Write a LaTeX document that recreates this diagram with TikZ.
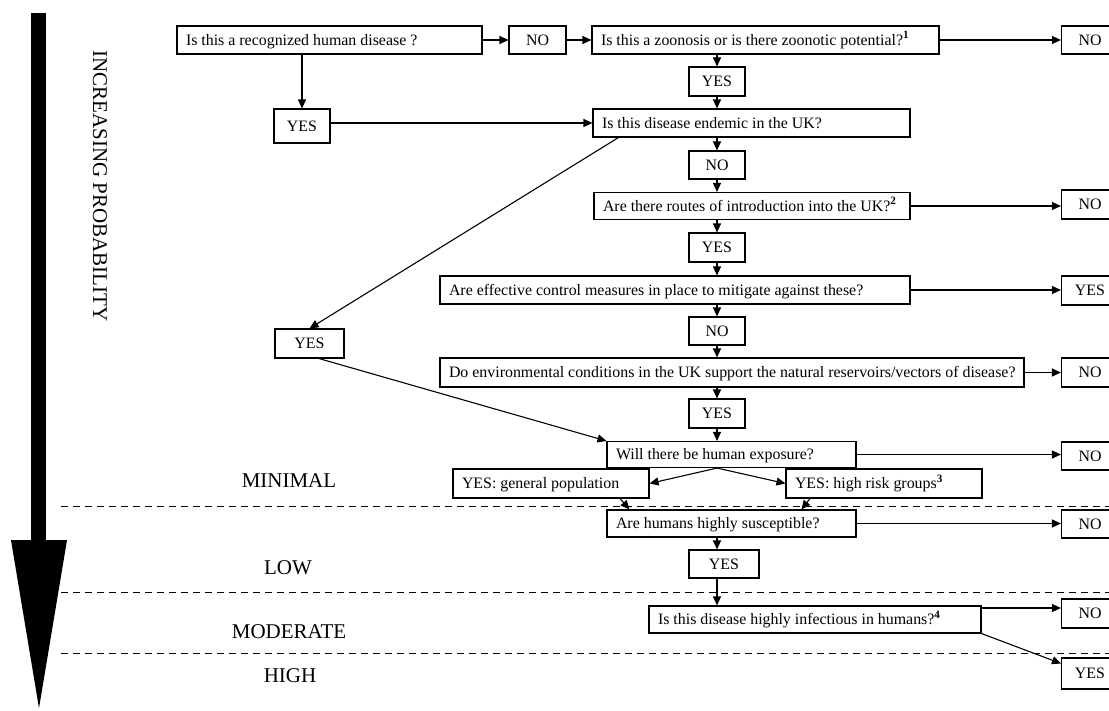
\documentclass[tikz,border=0pt]{standalone}
\usepackage{fontspec}
\setmainfont{Liberation Serif}
\usetikzlibrary{arrows.meta,calc}
% left-aligned box text: #1 = box width (pt), #2 = text
\newcommand\boxtxt[2]{\makebox[\dimexpr#1pt-18pt\relax][l]{#2}}
\newcommand\fn[1]{\textsuperscript{\textbf{#1}}}

\begin{document}
\begin{tikzpicture}[x=1pt,y=-1pt,
  every node/.style={font=\fontsize{15.9}{18}\selectfont, text height=10.5pt, text depth=0pt},
  qb/.style={draw, line width=1.1pt, inner xsep=9pt, inner ysep=0pt, minimum height=#1},
  sb/.style 2 args={draw, line width=1.1pt, inner sep=0pt, minimum width=#1, minimum height=#2},
  lvl/.style={font=\fontsize{21}{24}\selectfont, text height=14pt},
  arr/.style={line width=1.1pt, -{Triangle[length=9pt,width=8pt]}},
  band/.style={line width=1pt, dash pattern=on 7pt off 5pt}
]
\useasboundingbox (0,0) rectangle (1109,710);
\clip (0,0) rectangle (1109,710);

% probability scale arrow
\fill (31,13) rectangle (46,541);
\fill (11,540) -- (67,540) -- (39,708) -- cycle;
\node[lvl, rotate=-90] (prob) at (100,186) {INCREASING PROBABILITY};

% risk bands
\draw[band] (61,506) -- (1109,506);
\draw[band] (61,592) -- (1109,592);
\draw[band] (61,653) -- (1109,653);
\node[lvl] (minimal) at (289,480) {MINIMAL};
\node[lvl] (low) at (288,567) {LOW};
\node[lvl] (moderate) at (289,631) {MODERATE};
\node[lvl] (high) at (290,675) {HIGH};

% questions and answers
\node[qb=28pt] (b1) at (329.5,40) {\boxtxt{305}{Is this a recognized human disease ?}};
\node[sb={57pt}{28pt}] (no1) at (537.5,40) {NO};
\node[qb=28pt] (b2) at (765.5,40) {\boxtxt{347}{Is this a zoonosis or is there zoonotic potential?\fn{1}}};
\node[sb={57pt}{28pt}] (r1) at (1090,40) {NO};
\node[sb={56pt}{29pt}] (yz) at (717,81.5) {YES};
\node[sb={56pt}{34pt}] (y1) at (302,126) {YES};
\node[qb=28pt] (en) at (751.5,123) {\boxtxt{317}{Is this disease endemic in the UK?}};
\node[sb={56pt}{28pt}] (ne) at (717,165) {NO};
\node[qb=27pt] (rt) at (752,206) {\boxtxt{316}{Are there routes of introduction into the UK?\fn{2}}};
\node[sb={57pt}{29pt}] (r2) at (1090,204.5) {NO};
\node[sb={56pt}{29pt}] (yr) at (717,247.5) {YES};
\node[qb=28pt] (ct) at (675,290) {\boxtxt{470}{Are effective control measures in place to mitigate against these?}};
\node[sb={57pt}{29pt}] (r3) at (1090,290.5) {YES};
\node[sb={56pt}{28pt}] (nc) at (717,331) {NO};
\node[qb=29pt] (ev) at (732,372.5) {\boxtxt{584}{Do environmental conditions in the UK support the natural reservoirs/vectors of disease?}};
\node[sb={57pt}{29pt}] (r4) at (1090,372.5) {NO};
\node[sb={56pt}{29pt}] (ye) at (717,413.5) {YES};
\node[sb={69pt}{29pt}] (y2) at (309.5,343.5) {YES};
\node[qb=26pt] (ex) at (731.5,454.5) {\boxtxt{249}{Will there be human exposure?}};
\node[sb={57pt}{28pt}] (r5) at (1090,456) {NO};
\node[qb=29pt] (gp) at (551,483.5) {\boxtxt{196}{YES: general population}};
\node[qb=29pt] (hr) at (884,483.5) {\boxtxt{196}{YES: high risk groups\fn{3}}};
\node[qb=27pt] (su) at (731.5,523.5) {\boxtxt{249}{Are humans highly susceptible?}};
\node[sb={57pt}{28pt}] (r6) at (1090,524) {NO};
\node[sb={70pt}{28pt}] (ys) at (724,564) {YES};
\node[qb=27pt] (inf) at (815,619.5) {\boxtxt{332}{Is this disease highly infectious in humans?\fn{4}}};
\node[sb={57pt}{29pt}] (r7) at (1090,613.5) {NO};
\node[sb={57pt}{31pt}] (r8) at (1090,673.5) {YES};

% connectors
\draw[arr] (b1.east) -- (no1.west);
\draw[arr] (no1.east) -- (b2.west);
\draw[arr] (b2.east) -- (r1.west);
\draw[arr] (y1.north |- b1.south) -- (y1.north);
\draw[arr] (yz.north |- b2.south) -- (yz.north);
\draw[arr] (yz.south) -- (yz.south |- en.north);
\draw[arr] (y1.east |- en.west) -- (en.west);
\draw[arr] (ne.north |- en.south) -- (ne.north);
\draw[arr] ([xshift=26pt]en.south west) -- (y2.north);
\draw[arr] (ne.south) -- (ne.south |- rt.north);
\draw[arr] (rt.east) -- (rt.east -| r2.west);
\draw[arr] (yr.north |- rt.south) -- (yr.north);
\draw[arr] (yr.south) -- (yr.south |- ct.north);
\draw[arr] (ct.east) -- (ct.east -| r3.west);
\draw[arr] (nc.north |- ct.south) -- (nc.north);
\draw[arr] (nc.south) -- (nc.south |- ev.north);
\draw[arr] (ev.east) -- (ev.east -| r4.west);
\draw[arr] (ye.north |- ev.south) -- (ye.north);
\draw[arr] (ye.south) -- (ye.south |- ex.north);
\draw[arr] ([xshift=9.5pt]y2.south) -- (ex.north west);
\draw[arr] (ex.east) -- (ex.east -| r5.west);
\draw[arr] (ye.south |- ex.south) -- (gp.east);
\draw[arr] (ye.south |- ex.south) -- (hr.west);
\draw[arr] ([xshift=69pt]gp.south) -- ([xshift=23pt]su.north west);
\draw[arr] ([xshift=-74pt]hr.south) -- ([xshift=195pt]su.north west);
\draw[arr] (su.east) -- (su.east -| r6.west);
\draw[arr] ([xshift=-7pt]ys.north |- su.south) -- ([xshift=-7pt]ys.north);
\draw[arr] ([xshift=-7pt]ys.south) -- ([xshift=-7pt]ys.south |- inf.north);
\draw[arr] ([yshift=11.5pt]inf.east) -- ([yshift=11.5pt]inf.east -| r7.west);
\draw[arr] (inf.south east) -- ([yshift=10pt]r8.west);
\end{tikzpicture}
\end{document}
